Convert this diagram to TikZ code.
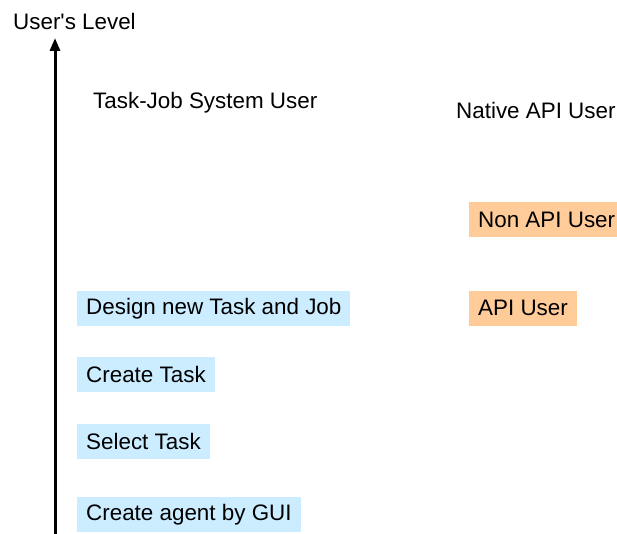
\documentclass[tikz,border=0pt]{standalone}
\usepackage{fontspec}
\setmainfont{Liberation Sans}
\usetikzlibrary{positioning,arrows.meta}
\definecolor{taskblue}{HTML}{CCECFF}
\definecolor{apiorange}{HTML}{FFCC99}

\begin{document}
\begin{tikzpicture}[x=1pt,y=-1pt,
	bigtext/.style={font=\fontsize{22.4}{26}\selectfont, text=black},
	plainlabel/.style={bigtext, anchor=west, inner sep=0pt},
	taskbox/.style={bigtext, anchor=west, fill=taskblue, inner xsep=9pt, inner ysep=0pt, minimum height=35pt},
	apibox/.style={bigtext, anchor=west, fill=apiorange, inner xsep=9pt, inner ysep=0pt, minimum height=35pt},
	]
	\useasboundingbox (0,0) rectangle (617,534);
	%Nodes
	\node[plainlabel] (level)  at (13,21)   {User\textquotesingle s Level};
	\node[plainlabel] (tjuser) at (93,103)  {Task-Job System User};
	\node[plainlabel] (native) at (456,110) {Native API User};
	
	\node[apibox]  (nonapi) at (469,219.5) {Non API User};
	\node[apibox]  (api)    at (469,308)   {API User};
	
	\node[taskbox] (design) at (77,308.5) {Design new Task and Job};
	\node[taskbox] (create) at (77,374.5) {Create Task};
	\node[taskbox] (select) at (77,441.5) {Select Task};
	\node[taskbox] (agent)  at (77,514.5) {Create agent by GUI};
	
	\coordinate (bottom) at (55,534);
	\coordinate (top)    at (55,38);
	
	%Lines
	\draw[-{Triangle[length=13pt,width=10pt]}, line width=3pt] (bottom) -- (top);
\end{tikzpicture}
\end{document}
